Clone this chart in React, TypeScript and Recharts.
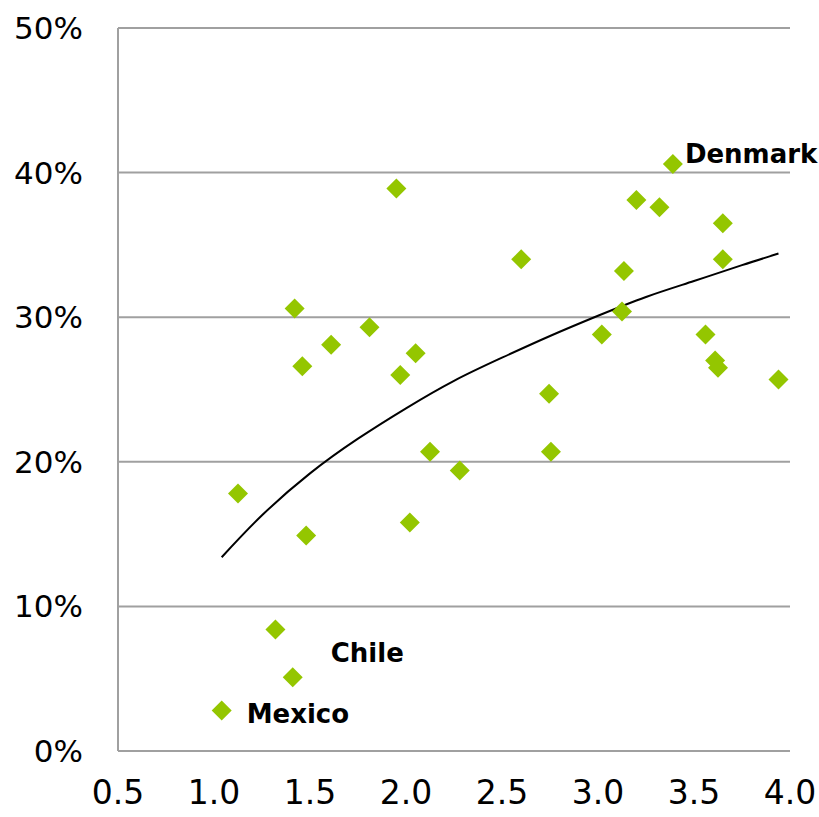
import React from 'react';
import { ScatterChart, Scatter, XAxis, YAxis, CartesianGrid } from 'recharts';

// values
const countryX = [
  1.04, 1.41, 1.32, 1.125, 1.48, 1.42, 1.46, 1.61, 1.81, 1.95,
  1.97, 2.05, 2.02, 2.125, 2.28, 2.6, 2.745, 2.755, 3.02, 3.125,
  3.135, 3.2, 3.32, 3.39, 3.56, 3.61, 3.625, 3.65, 3.65, 3.94,
];
const countryY = [
  2.8, 5.1, 8.4, 17.8, 14.9, 30.6, 26.6, 28.1, 29.3, 38.9,
  26.0, 27.5, 15.8, 20.7, 19.4, 34.0, 24.7, 20.7, 28.8, 30.4,
  33.2, 38.1, 37.6, 40.6, 28.8, 27.0, 26.5, 34.0, 36.5, 25.7,
];
const countryName = [
  'Mexico', 'Chile', '', '', '', '', '', '', '', '',
  '', '', '', '', '', '', '', '', '', '',
  '', '', '', 'Denmark', '', '', '', '', '', '',
];

const trendX = [1.04, 1.25, 1.5, 1.75, 2.0, 2.25, 2.5, 2.75, 3.0, 3.25, 3.5, 3.75, 3.94];
const trendY = [13.4, 16.3, 19.2, 21.6, 23.7, 25.6, 27.2, 28.7, 30.1, 31.4, 32.5, 33.6, 34.4];

const xTicks = [0.5, 1.0, 1.5, 2.0, 2.5, 3.0, 3.5, 4.0];
const yTicks = [0, 10, 20, 30, 40, 50];

const labelOffset: Record<string, { dx: number; dy: number }> = {
  Mexico: { dx: 25, dy: 3 },
  Chile: { dx: 38, dy: -24 },
  Denmark: { dx: 12, dy: -10 },
};

const GREEN = '#94C600';
const FONT = '"DejaVu Sans", sans-serif';

const points = countryX.map((x, i) => ({ x, y: countryY[i], name: countryName[i] }));
const trend = trendX.map((x, i) => ({ x, y: trendY[i] }));

function Diamond(props: any) {
  const { cx, cy, payload } = props;
  const h = 10;
  const off = payload && payload.name ? labelOffset[payload.name] : null;
  return (
    <g>
      <polygon
        points={`${cx},${cy - h} ${cx + h},${cy} ${cx},${cy + h} ${cx - h},${cy}`}
        fill={GREEN}
      />
      {off && (
        <text
          x={cx + off.dx}
          y={cy + off.dy}
          dominantBaseline="central"
          fontFamily={FONT}
          fontWeight="bold"
          fontSize={26}
          fill="#000"
        >
          {payload.name}
        </text>
      )}
    </g>
  );
}

export default function App() {
  return (
    <div style={{ position: 'absolute', left: 0, top: 0, background: '#fff' }}>
      <ScatterChart
        width={819}
        height={817}
        margin={{ top: 28, right: 29, left: 0, bottom: 0 }}
        style={{ overflow: 'visible' }}
      >
        <CartesianGrid vertical={false} stroke="#A0A0A0" strokeWidth={2} />
        <XAxis
          type="number"
          dataKey="x"
          domain={[0.5, 4]}
          ticks={xTicks}
          tickFormatter={(v: number) => v.toFixed(1)}
          height={66}
          tickSize={0}
          tickMargin={30}
          stroke="#A0A0A0"
          strokeWidth={2}
          tick={{ fill: '#000', fontSize: 33, fontFamily: FONT }}
        />
        <YAxis
          type="number"
          dataKey="y"
          domain={[0, 50]}
          ticks={yTicks}
          tickFormatter={(v: number) => `${v}%`}
          width={118}
          tickSize={0}
          tickMargin={35}
          stroke="#A0A0A0"
          strokeWidth={2}
          tick={{ fill: '#000', fontSize: 31, fontFamily: FONT }}
        />
        <Scatter
          data={trend}
          line={{ stroke: '#000', strokeWidth: 2 }}
          lineJointType="natural"
          shape={() => <g />}
          isAnimationActive={false}
        />
        <Scatter data={points} shape={Diamond} isAnimationActive={false} />
      </ScatterChart>
    </div>
  );
}
